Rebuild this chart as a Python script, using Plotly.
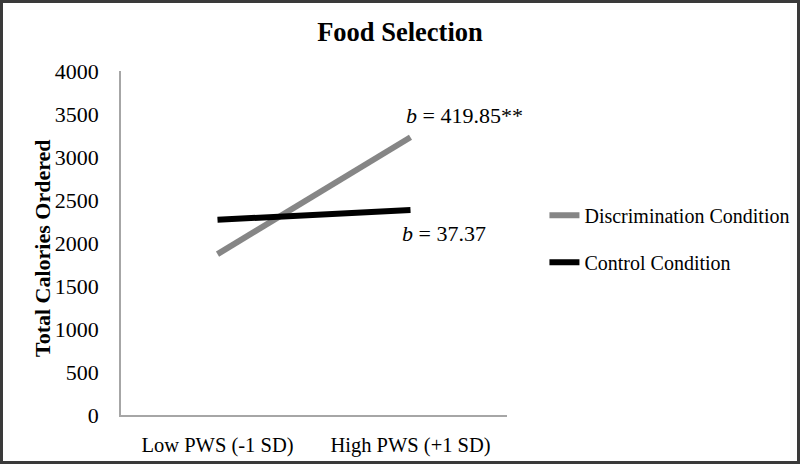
import plotly.graph_objects as go

categories = ["Low PWS (-1 SD)", "High PWS (+1 SD)"]
discrimination = [1870, 3230]
control = [2270, 2385]
slope_labels = ["<i>b</i> = 419.85**", "<i>b</i> = 37.37"]
y_ticks = [0, 500, 1000, 1500, 2000, 2500, 3000, 3500, 4000]
y_title = "<b>Total Calories Ordered</b>"

W, H = 800, 464
L, R, T, B = 121, 293, 71, 49
FONT = "Liberation Serif"

fig = go.Figure()
fig.add_trace(go.Scatter(x=categories, y=discrimination, mode="lines",
                         name="Discrimination Condition", legendgroup="a",
                         line=dict(color="#868686", width=6)))
fig.add_trace(go.Scatter(x=categories, y=control, mode="lines",
                         name="Control Condition", legendgroup="b",
                         line=dict(color="#000000", width=6)))

fig.add_annotation(x=categories[1], y=discrimination[1], text=slope_labels[0],
                   showarrow=False, xanchor="left", xshift=-7, yshift=22,
                   font=dict(family=FONT, size=22, color="black"))
fig.add_annotation(x=categories[1], y=control[1], text=slope_labels[1],
                   showarrow=False, xanchor="left", xshift=-11, yshift=-24,
                   font=dict(family=FONT, size=22, color="black"))

pw = W - L - R
ph = H - T - B
# y axis title as rotated annotation
fig.add_annotation(xref="paper", yref="paper", x=(42 - L) / pw, y=(H - B - 248) / ph,
                   text=y_title, textangle=-90, showarrow=False,
                   xanchor="center", yanchor="middle",
                   font=dict(family=FONT, size=22, color="black"))

fig.add_shape(type="rect", xref="paper", yref="paper",
              x0=-L / pw + 1.5 / pw, x1=1 + R / pw - 1.5 / pw,
              y0=-B / ph + 1.5 / ph, y1=1 + T / ph - 1.5 / ph,
              line=dict(color="#3a3a3a", width=3), layer="above")

fig.update_layout(
    width=W, height=H,
    margin=dict(l=L, r=R, t=T, b=B, autoexpand=False),
    paper_bgcolor="white", plot_bgcolor="white",
    font=dict(family=FONT, size=20, color="black"),
    title=dict(text="<b>Food Selection</b>", x=0.5, xref="container", xanchor="center",
               y=1 - 32 / H, yanchor="middle", font=dict(family=FONT, size=26.5)),
    showlegend=True,
    legend=dict(x=1.097, y=0.637, xanchor="left", yanchor="top",
                traceorder="grouped", tracegroupgap=18,
                font=dict(family=FONT, size=20), bgcolor="rgba(0,0,0,0)"),
)
fig.update_xaxes(type="category", range=[-0.5, 1.5], showline=True, automargin=False,
                 linecolor="#a6a6a6", linewidth=1.5, showgrid=False, ticks="",
                 ticklabelstandoff=11, tickfont=dict(family=FONT, size=20.5))
fig.update_yaxes(range=[0, 4000], tickvals=y_ticks, showline=True, automargin=False,
                 linecolor="#a6a6a6", linewidth=1.5, showgrid=False, ticks="",
                 zeroline=False, ticklabelstandoff=16,
                 tickfont=dict(family=FONT, size=22))

fig.write_html("out.html", config={"displayModeBar": False},
               post_script="document.body.style.margin='0';document.body.style.overflow='hidden';")
